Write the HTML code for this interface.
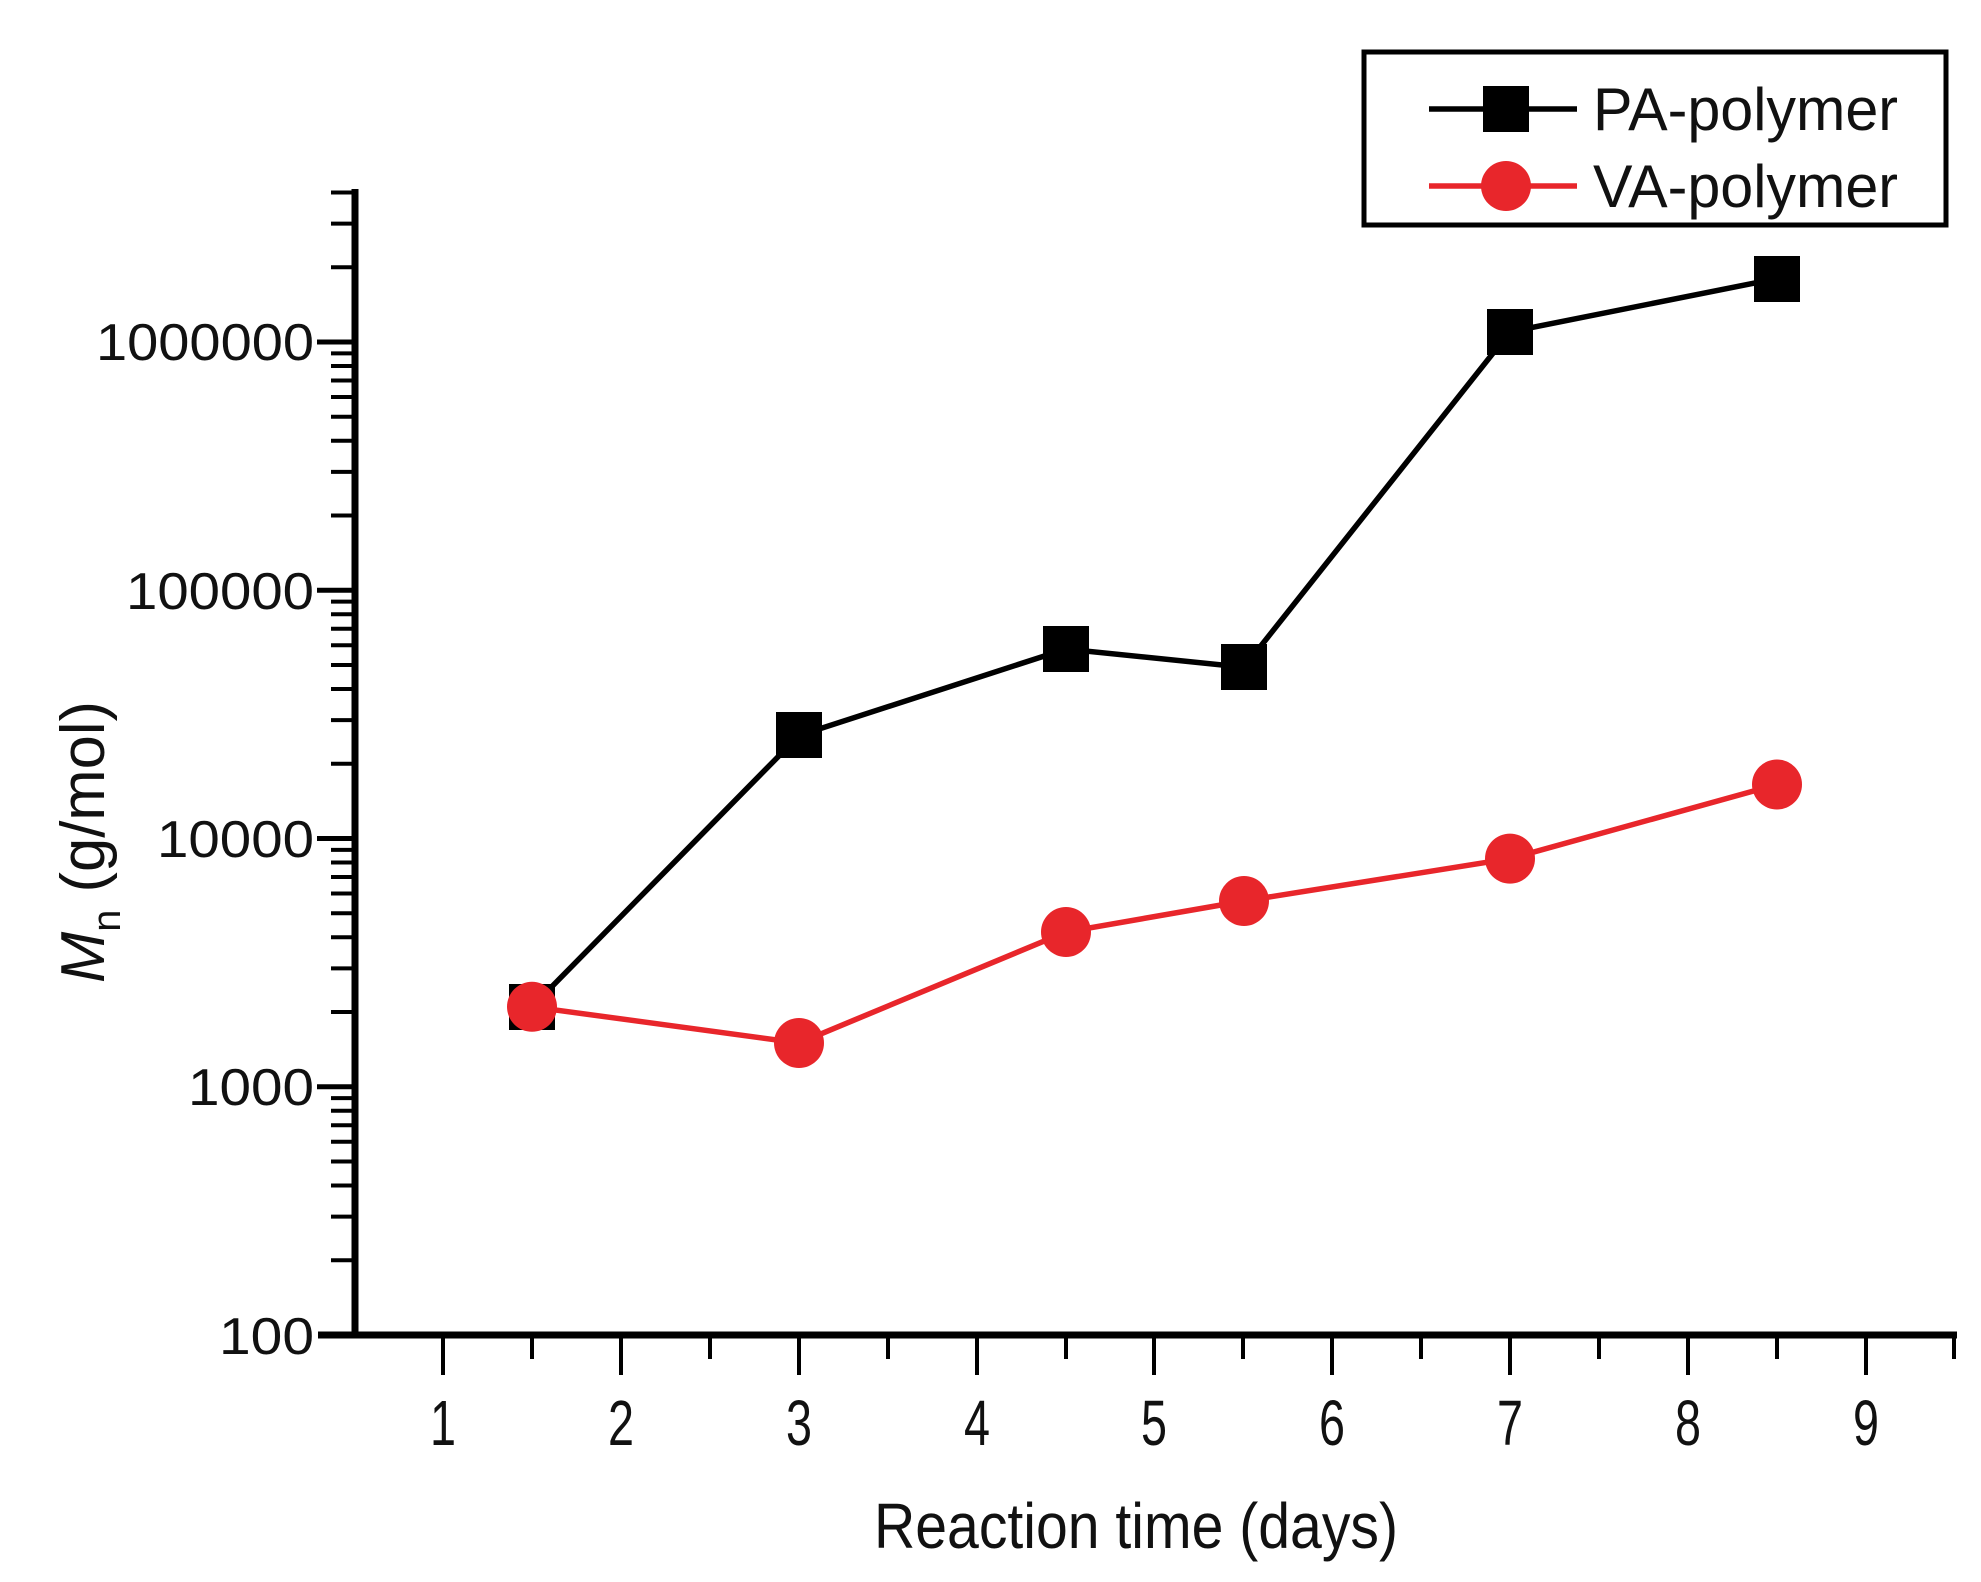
<!DOCTYPE html>
<html><head><meta charset="utf-8"><style>body{margin:0;background:#fff}svg{display:block}</style></head>
<body>
<svg width="1981" height="1582" viewBox="0 0 1981 1582" xmlns="http://www.w3.org/2000/svg" font-family="Liberation Sans, sans-serif">
<defs>
<path id="mt" d="M355,-74.7h-24M355,-118.4h-24M355,-149.5h-24M355,-173.5h-24M355,-193.2h-24M355,-209.8h-24M355,-224.2h-24M355,-236.9h-24" stroke="#000" stroke-width="4"/>
</defs>
<path d="M355,189V1338M318,1335H1957" stroke="#000" stroke-width="7" fill="none"/>
<path d="M355,342h-38M355,590.25h-38M355,838.5h-38M355,1086.75h-38" stroke="#000" stroke-width="5"/>
<use href="#mt" transform="translate(0,1335)"/>
<use href="#mt" transform="translate(0,1086.75)"/>
<use href="#mt" transform="translate(0,838.5)"/>
<use href="#mt" transform="translate(0,590.25)"/>
<path d="M355,267.3h-24M355,223.6h-24M355,192.5h-24" stroke="#000" stroke-width="4"/>
<path d="M443,1335v40M621,1335v40M799,1335v40M977,1335v40M1154,1335v40M1332,1335v40M1510,1335v40M1688,1335v40M1866,1335v40" stroke="#000" stroke-width="4"/>
<path d="M532,1335v24M710,1335v24M888,1335v24M1066,1335v24M1243,1335v24M1421,1335v24M1599,1335v24M1777,1335v24M1954,1335v24" stroke="#000" stroke-width="4"/>
<g font-size="52" text-anchor="end" fill="#111">
<text x="314" y="360" textLength="218" lengthAdjust="spacingAndGlyphs">1000000</text>
<text x="314" y="609" textLength="188" lengthAdjust="spacingAndGlyphs">100000</text>
<text x="314" y="857" textLength="157" lengthAdjust="spacingAndGlyphs">10000</text>
<text x="314" y="1105" textLength="126" lengthAdjust="spacingAndGlyphs">1000</text>
<text x="314" y="1354" textLength="95" lengthAdjust="spacingAndGlyphs">100</text>
</g>
<g font-size="64" text-anchor="middle" fill="#111">
<text x="443" y="1445" textLength="26" lengthAdjust="spacingAndGlyphs">1</text><text x="621" y="1445" textLength="26" lengthAdjust="spacingAndGlyphs">2</text><text x="799" y="1445" textLength="26" lengthAdjust="spacingAndGlyphs">3</text>
<text x="977" y="1445" textLength="26" lengthAdjust="spacingAndGlyphs">4</text><text x="1154" y="1445" textLength="26" lengthAdjust="spacingAndGlyphs">5</text><text x="1332" y="1445" textLength="26" lengthAdjust="spacingAndGlyphs">6</text>
<text x="1510" y="1445" textLength="26" lengthAdjust="spacingAndGlyphs">7</text><text x="1688" y="1445" textLength="26" lengthAdjust="spacingAndGlyphs">8</text><text x="1866" y="1445" textLength="26" lengthAdjust="spacingAndGlyphs">9</text>
</g>
<text x="1136" y="1548" font-size="64" text-anchor="middle" textLength="524" lengthAdjust="spacingAndGlyphs" fill="#111">Reaction time (days)</text>
<g transform="translate(104,842) rotate(-90)" fill="#111">
<text x="0" y="0" font-size="62" text-anchor="middle" textLength="282" lengthAdjust="spacingAndGlyphs"><tspan font-style="italic">M</tspan><tspan font-size="40" dy="16">n</tspan><tspan dy="-16"> (g/mol)</tspan></text>
</g>
<polyline points="532,1006.8 799,735.5 1066,649 1244,667.2 1510,331.8 1777,278.6" fill="none" stroke="#000" stroke-width="5.5"/>
<g fill="#000">
<rect x="509" y="984" width="46" height="46"/><rect x="776" y="712" width="46" height="46"/>
<rect x="1043" y="626" width="46" height="46"/><rect x="1221" y="644" width="46" height="46"/>
<rect x="1487" y="309" width="46" height="46"/><rect x="1754" y="256" width="46" height="46"/>
</g>
<polyline points="532,1006.8 799,1043 1066,932 1244,901 1510,858.6 1777,784.5" fill="none" stroke="#e8262b" stroke-width="5.5"/>
<g fill="#e8262b">
<circle cx="532" cy="1006.8" r="25"/><circle cx="799" cy="1043" r="25"/><circle cx="1066" cy="932" r="25"/>
<circle cx="1244" cy="901" r="25"/><circle cx="1510" cy="858.6" r="25"/><circle cx="1777" cy="784.5" r="25"/>
</g>
<rect x="1364" y="52" width="582" height="173" fill="#fff" stroke="#000" stroke-width="5"/>
<line x1="1429" y1="109" x2="1577" y2="109" stroke="#000" stroke-width="5.5"/>
<rect x="1483" y="86" width="46" height="46" fill="#000"/>
<line x1="1429" y1="186" x2="1577" y2="186" stroke="#e8262b" stroke-width="5.5"/>
<circle cx="1506" cy="186" r="25" fill="#e8262b"/>
<g font-size="60" fill="#111">
<text x="1593" y="130" textLength="305" lengthAdjust="spacingAndGlyphs">PA-polymer</text>
<text x="1593" y="207" textLength="305" lengthAdjust="spacingAndGlyphs">VA-polymer</text>
</g>
</svg>
</body></html>
